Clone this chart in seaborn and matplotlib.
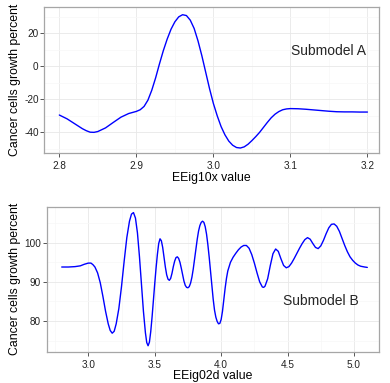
import matplotlib
matplotlib.use("Agg")
import matplotlib.pyplot as plt
from matplotlib.ticker import MultipleLocator, FormatStrFormatter
import seaborn as sns
import pandas as pd

# ---- data: Submodel A ----
xA = [2.800, 2.810, 2.820, 2.830, 2.835, 2.840, 2.845, 2.850, 2.860, 2.870,
      2.880, 2.890, 2.900, 2.905, 2.910, 2.915, 2.920, 2.925, 2.930, 2.935,
      2.940, 2.945, 2.950, 2.955, 2.960, 2.965, 2.970, 2.975, 2.980, 2.985,
      2.990, 2.995, 3.000, 3.005, 3.010, 3.015, 3.020, 3.025, 3.030, 3.035,
      3.040, 3.045, 3.050, 3.055, 3.060, 3.065, 3.070, 3.075, 3.080, 3.085,
      3.090, 3.095, 3.100, 3.110, 3.120, 3.130, 3.140, 3.150, 3.160, 3.170,
      3.180, 3.190, 3.200]
yA = [-29.5, -31.8, -34.8, -37.8, -39.0, -39.9, -40.0, -39.5, -37.3, -34.0,
      -30.8, -28.6, -27.3, -26.3, -24.3, -20.5, -14.5, -7.0, 1.5, 9.5,
      16.5, 22.5, 27.0, 30.0, 31.3, 30.8, 28.0, 23.0, 15.5, 6.5,
      -3.5, -13.5, -22.5, -30.0, -36.5, -41.5, -45.3, -47.8, -49.2, -49.5,
      -48.8, -47.2, -45.0, -42.6, -40.0, -37.0, -34.0, -31.2, -29.0, -27.4,
      -26.3, -25.8, -25.6, -25.7, -26.0, -26.4, -26.8, -27.2, -27.5, -27.6,
      -27.6, -27.7, -27.7]

# ---- data: Submodel B ----
xB = [2.80, 2.85, 2.90, 2.94, 2.97, 3.00, 3.02, 3.035, 3.05, 3.07, 3.09, 3.11,
      3.13, 3.15, 3.165, 3.18, 3.195, 3.21, 3.23, 3.25, 3.27, 3.29, 3.31, 3.325,
      3.34, 3.355, 3.37, 3.385, 3.40, 3.415, 3.43, 3.44, 3.45, 3.46, 3.47, 3.48,
      3.49, 3.50, 3.51, 3.52, 3.53, 3.54, 3.55, 3.56, 3.57, 3.58, 3.59, 3.60,
      3.61, 3.62, 3.63, 3.64, 3.65, 3.66, 3.67, 3.68, 3.69, 3.70, 3.71, 3.72,
      3.73, 3.74, 3.75, 3.76, 3.77, 3.78, 3.79, 3.80, 3.81, 3.82, 3.83, 3.84,
      3.85, 3.86, 3.87, 3.88, 3.89, 3.90, 3.91, 3.92, 3.93, 3.94, 3.95, 3.96,
      3.97, 3.98, 3.99, 4.00, 4.01, 4.02, 4.03, 4.04, 4.05, 4.07, 4.09, 4.11,
      4.13, 4.15, 4.17, 4.19, 4.21, 4.23, 4.25, 4.27, 4.29, 4.31, 4.32, 4.33,
      4.35, 4.37, 4.39, 4.41, 4.43, 4.45, 4.47, 4.49, 4.51, 4.53, 4.55, 4.57,
      4.59, 4.61, 4.63, 4.65, 4.67, 4.69, 4.71, 4.73, 4.75, 4.77, 4.79, 4.81,
      4.83, 4.85, 4.87, 4.89, 4.91, 4.93, 4.95, 4.97, 4.99, 5.01, 5.03, 5.05,
      5.08, 5.10]
yB = [93.8, 93.8, 93.9, 94.1, 94.5, 94.8, 94.8, 94.4, 93.8, 92.3, 89.8, 86.3,
      82.5, 79.3, 77.6, 76.9, 77.4, 79.3, 83.2, 88.8, 95.3, 101.3, 105.5, 107.3,
      107.7, 106.3, 102.5, 96.5, 89.5, 82.5, 77.0, 74.5, 73.7, 74.6, 77.3, 81.0,
      85.3, 89.5, 93.5, 97.0, 99.8, 101.0, 100.5, 98.8, 96.3, 93.8, 91.8, 90.7,
      90.4, 90.9, 92.2, 93.9, 95.3, 96.2, 96.4, 96.0, 95.0, 93.5, 91.8, 90.2,
      89.1, 88.6, 88.5, 88.8, 89.7, 91.2, 93.3, 95.8, 98.4, 100.9, 103.0, 104.4,
      105.2, 105.5, 105.2, 104.1, 102.2, 99.5, 96.3, 92.7, 89.0, 85.6, 82.8, 81.0,
      79.9, 79.3, 79.4, 80.4, 82.5, 85.5, 88.4, 90.9, 92.8, 95.0, 96.3, 97.3,
      98.2, 98.9, 99.3, 99.3, 98.6, 97.0, 94.8, 92.3, 90.0, 88.7, 88.6, 88.9,
      90.8, 94.2, 97.2, 98.4, 97.8, 95.9, 94.2, 93.6, 93.9, 94.8, 96.0, 97.3,
      98.6, 99.8, 100.8, 101.3, 100.9, 99.8, 98.8, 98.5, 99.2, 100.6, 102.3, 103.8,
      104.7, 104.8, 104.2, 102.9, 101.1, 99.3, 97.7, 96.4, 95.5, 94.8, 94.3, 94.0,
      93.8, 93.7]

ylabel = "Cancer cells growth percent"
xlabelA = "EEig10x value"
xlabelB = "EEig02d value"
labelA = "Submodel A"
labelB = "Submodel B"

sns.set_style("white")
plt.rcParams['font.family'] = ['Liberation Sans', 'DejaVu Sans']
plt.rcParams['axes.unicode_minus'] = False

fig = plt.figure(figsize=(3.90, 3.83), dpi=100)
W, H = 390.0, 383.0

def mk_ax(l, r, t, b):
    return fig.add_axes([l / W, 1 - b / H, (r - l) / W, (b - t) / H])

axA = mk_ax(44.3, 379.0, 7.3, 153.3)
axB = mk_ax(46.7, 379.0, 206.7, 352.0)

dfA = pd.DataFrame({"x": xA, "y": yA})
dfB = pd.DataFrame({"x": xB, "y": yB})

sns.lineplot(data=dfA, x="x", y="y", ax=axA, color="#0000FF", linewidth=1.0)
sns.lineplot(data=dfB, x="x", y="y", ax=axB, color="#0000FF", linewidth=1.0)

def style(ax, xmaj, xmin, ymaj, ymin, xlabel):
    ax.xaxis.set_major_locator(MultipleLocator(xmaj))
    ax.xaxis.set_minor_locator(MultipleLocator(xmin))
    ax.yaxis.set_major_locator(MultipleLocator(ymaj))
    ax.yaxis.set_minor_locator(MultipleLocator(ymin))
    ax.xaxis.set_major_formatter(FormatStrFormatter('%.1f'))
    ax.yaxis.set_major_formatter(FormatStrFormatter('%d'))
    ax.grid(True, which='major', color='#E8E8E8', linewidth=0.6)
    ax.grid(True, which='minor', color='#F7F7F7', linewidth=0.5)
    ax.set_axisbelow(True)
    for s in ax.spines.values():
        s.set_color('#A6A6A6')
        s.set_linewidth(0.9)
    ax.tick_params(which='major', length=3, width=0.7, color='#555555',
                   labelsize=7.2, labelcolor='#222222',
                   bottom=True, left=True)
    ax.tick_params(axis='x', which='major', pad=2.5)
    ax.tick_params(axis='y', which='major', pad=1)
    ax.tick_params(which='minor', length=0)
    ax.set_xlabel(xlabel, fontsize=8.8, color='black', labelpad=0.5)
    ax.set_ylabel(ylabel, fontsize=8.8, color='black', labelpad=2.4)

style(axA, 0.1, 0.05, 20, 10, xlabelA)
axA.set_xlim(2.7805, 3.215)
axA.set_ylim(-52.7, 35.8)
axA.text(3.15, 9.5, labelA, fontsize=10, ha='center', va='center')

style(axB, 0.5, 0.25, 10, 5, xlabelB)
axB.set_xlim(2.687, 5.188)
axB.set_ylim(72.1, 109.2)
axB.set_yticks([80, 90, 100])
axB.text(4.75, 85, labelB, fontsize=10, ha='center', va='center')

fig.savefig("out.png", dpi=100)
